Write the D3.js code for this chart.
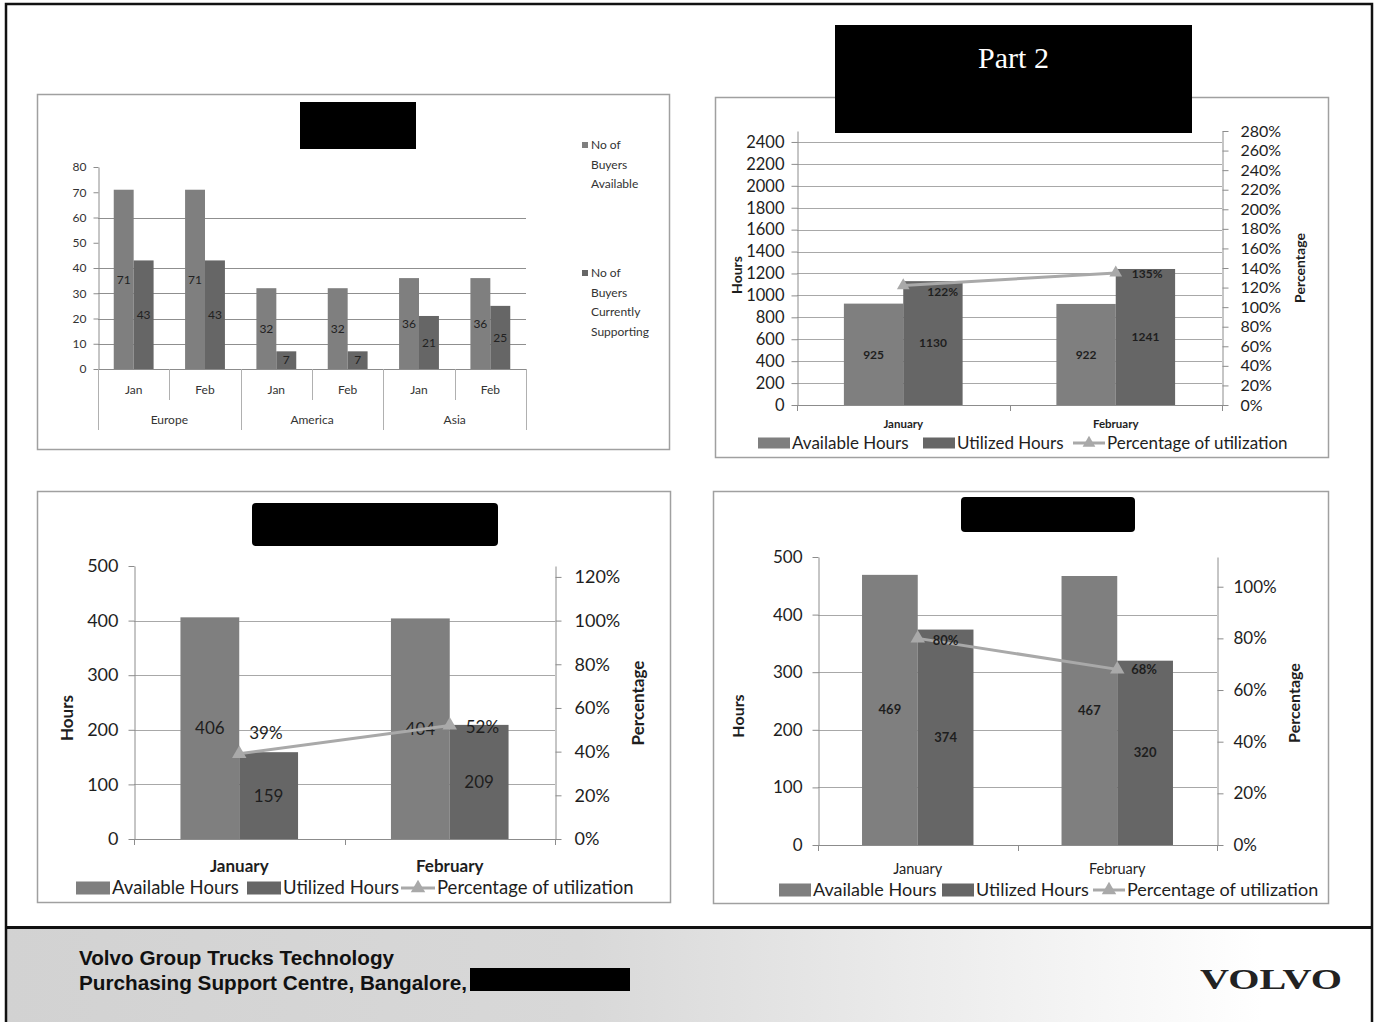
<!DOCTYPE html>
<html><head><meta charset="utf-8">
<script src="https://cdn.jsdelivr.net/npm/d3@7"></script>
<style>
body{margin:0;background:#fff}
svg{display:block}
</style>
</head><body>
<script>
// ---- Buyers per region and month ----
const regions = ["Europe", "America", "Asia"];
const months = ["Jan", "Feb"];
const buyersAvailable = [71, 71, 32, 32, 36, 36];
const buyersSupporting = [43, 43, 7, 7, 21, 25];
const buyerTicks = [0, 10, 20, 30, 40, 50, 60, 70, 80];
const buyerGrid = [10, 20, 30, 40, 60];
const buyerLegend = [["No of", "Buyers", "Available"], ["No of", "Buyers", "Currently", "Supporting"]];

// ---- Hours charts ----
const hourMonths = ["January", "February"];
const legendLabels = ["Available Hours", "Utilized Hours", "Percentage of utilization"];

const part2Available = [925, 922];
const part2Utilized = [1130, 1241];
const part2Utilization = [1.22, 1.35];
const part2HourTicks = [0, 200, 400, 600, 800, 1000, 1200, 1400, 1600, 1800, 2000, 2200, 2400];
const part2PctTicks = [0, 0.2, 0.4, 0.6, 0.8, 1.0, 1.2, 1.4, 1.6, 1.8, 2.0, 2.2, 2.4, 2.6, 2.8];

const lowerLeftAvailable = [406, 404];
const lowerLeftUtilized = [159, 209];
const lowerLeftUtilization = [0.39, 0.52];
const lowerLeftHourTicks = [0, 100, 200, 300, 400, 500];
const lowerLeftPctTicks = [0, 0.2, 0.4, 0.6, 0.8, 1.0, 1.2];

const lowerRightAvailable = [469, 467];
const lowerRightUtilized = [374, 320];
const lowerRightUtilization = [0.80, 0.68];
const lowerRightHourTicks = [0, 100, 200, 300, 400, 500];
const lowerRightPctTicks = [0, 0.2, 0.4, 0.6, 0.8, 1.0];

// ---- Styles ----
const COL_AVAIL = "#7f7f7f";
const COL_UTIL = "#666666";
const COL_LINE = "#a9a9a9";
const COL_GRID = "#a8a8a8";
const COL_AXIS = "#8c8c8c";
const COL_TEXT = "#1e1e1e";
const COL_BOX = "#a0a0a0";
const SANS = "Lato, 'Open Sans', sans-serif";
const NARROW = "'Liberation Sans Narrow', 'Arial Narrow', Lato, sans-serif";

const svg = d3.select("body").append("svg").attr("width", 1376).attr("height", 1022);

// ---- Slide frame and footer ----
const defs = svg.append("defs");
const grad = defs.append("linearGradient").attr("id", "footerGrad").attr("x1", "0").attr("x2", "1").attr("y1", "0").attr("y2", "0");
grad.append("stop").attr("offset", "0").attr("stop-color", "#d2d2d2");
grad.append("stop").attr("offset", "0.42").attr("stop-color", "#d8d8d8");
grad.append("stop").attr("offset", "0.92").attr("stop-color", "#ffffff");

svg.append("rect").attr("x", 6).attr("y", 929).attr("width", 1366).attr("height", 93).attr("fill", "url(#footerGrad)");
svg.append("line").attr("x1", 6).attr("x2", 1372).attr("y1", 927.5).attr("y2", 927.5).attr("stroke", "#111").attr("stroke-width", 3);
svg.append("path").attr("d", "M6,1022V4H1372V1022").attr("fill", "none").attr("stroke", "#111").attr("stroke-width", 2.5);

svg.append("text").attr("x", 79).attr("y", 965).attr("font-family", "'Liberation Sans', Arial, sans-serif")
  .attr("font-weight", "bold").attr("font-size", 20).attr("fill", "#111")
  .attr("textLength", 315).attr("lengthAdjust", "spacingAndGlyphs").text("Volvo Group Trucks Technology");
svg.append("text").attr("x", 79).attr("y", 990).attr("font-family", "'Liberation Sans', Arial, sans-serif")
  .attr("font-weight", "bold").attr("font-size", 20).attr("fill", "#111")
  .attr("textLength", 388).attr("lengthAdjust", "spacingAndGlyphs").text("Purchasing Support Centre, Bangalore,");
svg.append("rect").attr("x", 470).attr("y", 968).attr("width", 160).attr("height", 23).attr("fill", "#000");
svg.append("text").attr("x", 1200).attr("y", 989).attr("font-family", "'Liberation Serif', 'DejaVu Serif', serif")
  .attr("font-weight", "bold").attr("font-size", 29).attr("fill", "#222")
  .attr("textLength", 142).attr("lengthAdjust", "spacingAndGlyphs").text("VOLVO");

// ---- Chart 1: buyers ----
(function () {
  const g = svg.append("g");
  g.append("rect").attr("x", 37.5).attr("y", 94.5).attr("width", 632).attr("height", 355)
    .attr("fill", "#fff").attr("stroke", COL_BOX).attr("stroke-width", 1.5);
  g.append("rect").attr("x", 300).attr("y", 102).attr("width", 116).attr("height", 47).attr("fill", "#000");

  const keys = regions.flatMap(r => months.map(m => r + "|" + m));
  const x = d3.scaleBand(keys, [98, 526]);
  const xs = d3.scaleBand(["a", "s"], [0, x.bandwidth()]).paddingInner(0).paddingOuter(0.79);
  const y = d3.scaleLinear([0, 80], [369, 167]);

  g.append("g").selectAll("line").data(buyerGrid).join("line")
    .attr("x1", 98).attr("x2", 526).attr("y1", d => Math.round(y(d)) + 0.5).attr("y2", d => Math.round(y(d)) + 0.5)
    .attr("stroke", "#8f8f8f").attr("stroke-width", 1);

  const ax = g.append("g").attr("transform", "translate(98.5,0)")
    .call(d3.axisLeft(y).tickValues(buyerTicks).tickSize(5).tickSizeOuter(0).tickPadding(7));
  ax.selectAll("path,line").attr("stroke", COL_AXIS);
  ax.selectAll("text").attr("font-family", NARROW).attr("font-size", 12).attr("fill", "#333");

  // baseline and category separators
  g.append("line").attr("x1", 98).attr("x2", 526).attr("y1", 369.5).attr("y2", 369.5).attr("stroke", COL_AXIS);
  const bounds = keys.map((k, i) => ({ x: x(k), region: i % months.length === 0 })).concat([{ x: 526, region: true }]);
  g.append("g").selectAll("line").data(bounds).join("line")
    .attr("x1", d => Math.round(d.x) + 0.5).attr("x2", d => Math.round(d.x) + 0.5)
    .attr("y1", 369).attr("y2", d => d.region ? 430 : 400)
    .attr("stroke", "#b0b0b0");

  const series = [
    { key: "a", values: buyersAvailable, color: COL_AVAIL },
    { key: "s", values: buyersSupporting, color: COL_UTIL }
  ];
  series.forEach(s => {
    g.append("g").selectAll("rect").data(keys).join("rect")
      .attr("x", (k) => x(k) + xs(s.key)).attr("width", xs.bandwidth())
      .attr("y", (k, i) => y(s.values[i])).attr("height", (k, i) => y(0) - y(s.values[i]))
      .attr("fill", s.color);
    g.append("g").selectAll("text").data(keys).join("text")
      .attr("x", k => x(k) + xs(s.key) + xs.bandwidth() / 2)
      .attr("y", (k, i) => (y(s.values[i]) + y(0)) / 2)
      .attr("dy", "0.35em").attr("text-anchor", "middle")
      .attr("font-family", NARROW).attr("font-size", 12).attr("fill", "#222")
      .text((k, i) => s.values[i]);
  });

  g.append("g").selectAll("text").data(keys).join("text")
    .attr("x", k => x(k) + x.bandwidth() / 2).attr("y", 390).attr("dy", "0.35em").attr("text-anchor", "middle")
    .attr("font-family", NARROW).attr("font-size", 12).attr("fill", "#333").text(k => k.split("|")[1]);
  g.append("g").selectAll("text").data(regions).join("text")
    .attr("x", r => x(r + "|" + months[0]) + x.bandwidth() * months.length / 2).attr("y", 420).attr("dy", "0.35em")
    .attr("text-anchor", "middle").attr("font-family", NARROW).attr("font-size", 12).attr("fill", "#333").text(r => r);

  // legend
  const legendTop = [145, 273];
  buyerLegend.forEach((lines, li) => {
    g.append("rect").attr("x", 582).attr("y", legendTop[li] - 3).attr("width", 6).attr("height", 6)
      .attr("fill", series[li].color);
    g.append("g").selectAll("text").data(lines).join("text")
      .attr("x", 591).attr("y", (d, i) => legendTop[li] + i * 19.5).attr("dy", "0.35em")
      .attr("font-family", NARROW).attr("font-size", 12).attr("fill", "#333").text(d => d);
  });
})();

// ---- Column + line combo charts ----
function drawCombo(cfg, avail, util, pct, hourTicks, pctTicks) {
  const g = svg.append("g");
  const p = cfg.plot;
  g.append("rect").attr("x", cfg.box[0] + 0.5).attr("y", cfg.box[1] + 0.5).attr("width", cfg.box[2]).attr("height", cfg.box[3])
    .attr("fill", "#fff").attr("stroke", COL_BOX).attr("stroke-width", 1.5);

  const y = d3.scaleLinear([0, cfg.yMax], [p.bottom, p.top]);
  const yr = d3.scaleLinear([0, cfg.rMax], [p.bottom, p.top]);
  const x = d3.scaleBand(hourMonths, [p.left, p.right]);
  const xs = d3.scaleBand(["a", "u"], [0, x.bandwidth()]).paddingInner(0).paddingOuter(0.79);

  // gridlines
  g.append("g").selectAll("line").data(hourTicks.filter(t => t > 0 && y(t) > p.top + 1)).join("line")
    .attr("x1", p.left).attr("x2", p.right)
    .attr("y1", d => Math.round(y(d)) + 0.5).attr("y2", d => Math.round(y(d)) + 0.5)
    .attr("stroke", COL_GRID).attr("stroke-width", cfg.gridWidth || 1);

  // axes
  const la = g.append("g").attr("transform", `translate(${p.left + 0.5},0)`)
    .call(d3.axisLeft(y).tickValues(hourTicks).tickSize(6).tickSizeOuter(0).tickPadding(cfg.leftPad).tickFormat(d3.format("d")));
  la.selectAll("path,line").attr("stroke", COL_AXIS);
  la.selectAll("text").attr("font-family", SANS).attr("font-size", cfg.tickSize).attr("fill", COL_TEXT);

  const ra = g.append("g").attr("transform", `translate(${p.right + 0.5},0)`)
    .call(d3.axisRight(yr).tickValues(pctTicks).tickSize(6).tickSizeOuter(0).tickPadding(cfg.rightPad).tickFormat(d3.format(".0%")));
  ra.selectAll("path,line").attr("stroke", COL_AXIS);
  ra.selectAll("text").attr("font-family", SANS).attr("font-size", cfg.rTickSize).attr("fill", COL_TEXT);

  g.append("line").attr("x1", p.left).attr("x2", p.right).attr("y1", p.bottom + 0.5).attr("y2", p.bottom + 0.5).attr("stroke", COL_AXIS);
  const cuts = hourMonths.map(m => x(m)).concat([p.right]);
  g.append("g").selectAll("line").data(cuts).join("line")
    .attr("x1", d => Math.round(d) + 0.5).attr("x2", d => Math.round(d) + 0.5)
    .attr("y1", p.bottom).attr("y2", p.bottom + 6).attr("stroke", COL_AXIS);

  // bars
  const series = [
    { key: "a", values: avail, color: COL_AVAIL },
    { key: "u", values: util, color: COL_UTIL }
  ];
  series.forEach(s => {
    g.append("g").selectAll("rect").data(hourMonths).join("rect")
      .attr("x", m => x(m) + xs(s.key)).attr("width", xs.bandwidth())
      .attr("y", (m, i) => y(s.values[i])).attr("height", (m, i) => y(0) - y(s.values[i]))
      .attr("fill", s.color);
  });
  series.forEach(s => {
    g.append("g").selectAll("text").data(hourMonths).join("text")
      .attr("x", m => x(m) + xs(s.key) + xs.bandwidth() / 2)
      .attr("y", (m, i) => (y(s.values[i]) + y(0)) / 2).attr("dy", "0.35em")
      .attr("text-anchor", "middle").attr("font-family", SANS).attr("font-size", cfg.barLabelSize)
      .attr("font-weight", cfg.barLabelWeight).attr("fill", COL_TEXT)
      .text((m, i) => s.values[i]);
  });

  // utilisation line
  const cx = m => x(m) + x.bandwidth() / 2;
  g.append("path").datum(hourMonths)
    .attr("d", d3.line().x(m => cx(m)).y((m, i) => yr(pct[i])))
    .attr("fill", "none").attr("stroke", COL_LINE).attr("stroke-width", 3);
  g.append("g").selectAll("path").data(hourMonths).join("path")
    .attr("transform", (m, i) => `translate(${cx(m)},${yr(pct[i])})`)
    .attr("d", d3.symbol(d3.symbolTriangle, cfg.markerSize)).attr("fill", COL_LINE);
  g.append("g").selectAll("text").data(hourMonths).join("text")
    .attr("x", (m, i) => cx(m) + cfg.pctOffsets[i][0])
    .attr("y", (m, i) => yr(pct[i]) + cfg.pctOffsets[i][1]).attr("dy", "0.35em")
    .attr("font-family", SANS).attr("font-size", cfg.pctLabelSize).attr("font-weight", cfg.pctLabelWeight)
    .attr("fill", COL_TEXT).text((m, i) => d3.format(".0%")(pct[i]));

  // category labels
  g.append("g").selectAll("text").data(hourMonths).join("text")
    .attr("x", m => cx(m)).attr("y", cfg.catY).attr("dy", "0.35em").attr("text-anchor", "middle")
    .attr("font-family", SANS).attr("font-size", cfg.catSize).attr("font-weight", cfg.catWeight)
    .attr("fill", COL_TEXT).text(m => m);

  // axis titles
  g.append("text").attr("transform", `translate(${cfg.hoursTitle[0]},${cfg.hoursTitle[1]}) rotate(-90)`)
    .attr("dy", "0.35em").attr("text-anchor", "middle").attr("font-family", SANS).attr("font-weight", "bold")
    .attr("font-size", cfg.titleSize).attr("fill", COL_TEXT).text("Hours");
  g.append("text").attr("transform", `translate(${cfg.pctTitle[0]},${cfg.pctTitle[1]}) rotate(-90)`)
    .attr("dy", "0.35em").attr("text-anchor", "middle").attr("font-family", SANS).attr("font-weight", "bold")
    .attr("font-size", cfg.titleSize).attr("fill", COL_TEXT).text("Percentage");

  // legend
  const L = cfg.legend;
  [COL_AVAIL, COL_UTIL].forEach((c, i) => {
    g.append("rect").attr("x", L.x[i]).attr("y", L.y - L.h / 2).attr("width", L.w).attr("height", L.h).attr("fill", c);
  });
  g.append("line").attr("x1", L.x[2]).attr("x2", L.x[2] + L.w).attr("y1", L.y).attr("y2", L.y)
    .attr("stroke", COL_LINE).attr("stroke-width", 3);
  g.append("path").attr("transform", `translate(${L.x[2] + L.w / 2},${L.y})`)
    .attr("d", d3.symbol(d3.symbolTriangle, cfg.markerSize)).attr("fill", COL_LINE);
  g.append("g").selectAll("text").data(legendLabels).join("text")
    .attr("x", (d, i) => L.x[i] + L.w + 2).attr("y", L.y).attr("dy", "0.35em")
    .attr("font-family", SANS).attr("font-size", L.size).attr("fill", COL_TEXT).text(d => d);

  // title block
  g.append("rect").attr("x", cfg.title.x).attr("y", cfg.title.y).attr("width", cfg.title.w).attr("height", cfg.title.h)
    .attr("rx", cfg.title.rx).attr("fill", "#000");
  if (cfg.title.text) {
    g.append("text").attr("x", cfg.title.x + cfg.title.w / 2).attr("y", cfg.title.textY).attr("text-anchor", "middle")
      .attr("font-family", "'Liberation Serif', 'Times New Roman', serif").attr("font-size", 30).attr("fill", "#fff")
      .text(cfg.title.text);
  }
}

drawCombo({
  box: [715, 97, 613, 360],
  title: { x: 835, y: 25, w: 357, h: 108, rx: 0, text: "Part 2", textY: 68 },
  plot: { left: 797, right: 1222, top: 131, bottom: 405 },
  yMax: 2500, rMax: 2.8,
  leftPad: 7, rightPad: 12, tickSize: 16.5, rTickSize: 16,
  barLabelSize: 12, barLabelWeight: "bold", pctLabelSize: 12, pctLabelWeight: "bold",
  pctOffsets: [[24, 6], [16, 1]], markerSize: 70,
  catY: 424, catSize: 11.5, catWeight: "bold",
  hoursTitle: [737, 275], pctTitle: [1300, 268], titleSize: 14,
  legend: { x: [758, 923, 1073], y: 443, w: 32, h: 11, size: 17 }
}, part2Available, part2Utilized, part2Utilization, part2HourTicks, part2PctTicks);

drawCombo({
  box: [37, 491, 633, 411],
  title: { x: 252, y: 503, w: 246, h: 43, rx: 4 },
  plot: { left: 134, right: 555, top: 566, bottom: 839 },
  yMax: 500, rMax: 1.25,
  leftPad: 10, rightPad: 13, tickSize: 18, rTickSize: 18,
  barLabelSize: 17, barLabelWeight: "normal", pctLabelSize: 17, pctLabelWeight: "normal",
  pctOffsets: [[10, -21], [16, 2]], markerSize: 90,
  catY: 866, catSize: 17, catWeight: "bold",
  hoursTitle: [67, 718], pctTitle: [638, 703], titleSize: 17,
  legend: { x: [76, 247, 401], y: 888, w: 34, h: 13, size: 18.5 }
}, lowerLeftAvailable, lowerLeftUtilized, lowerLeftUtilization, lowerLeftHourTicks, lowerLeftPctTicks);

drawCombo({
  box: [713, 491, 615, 412],
  title: { x: 961, y: 497, w: 174, h: 35, rx: 4 },
  plot: { left: 818, right: 1217, top: 557, bottom: 845 },
  yMax: 500, rMax: 1.115,
  leftPad: 10, rightPad: 10, tickSize: 17, rTickSize: 17,
  barLabelSize: 13, barLabelWeight: "bold", pctLabelSize: 13, pctLabelWeight: "bold",
  pctOffsets: [[15, 2], [14, 0]], markerSize: 90,
  catY: 869, catSize: 14.5, catWeight: "normal",
  hoursTitle: [738, 716], pctTitle: [1294, 703], titleSize: 16,
  legend: { x: [779, 942, 1093], y: 890, w: 32, h: 13, size: 18 }
}, lowerRightAvailable, lowerRightUtilized, lowerRightUtilization, lowerRightHourTicks, lowerRightPctTicks);
</script>
</body></html>
